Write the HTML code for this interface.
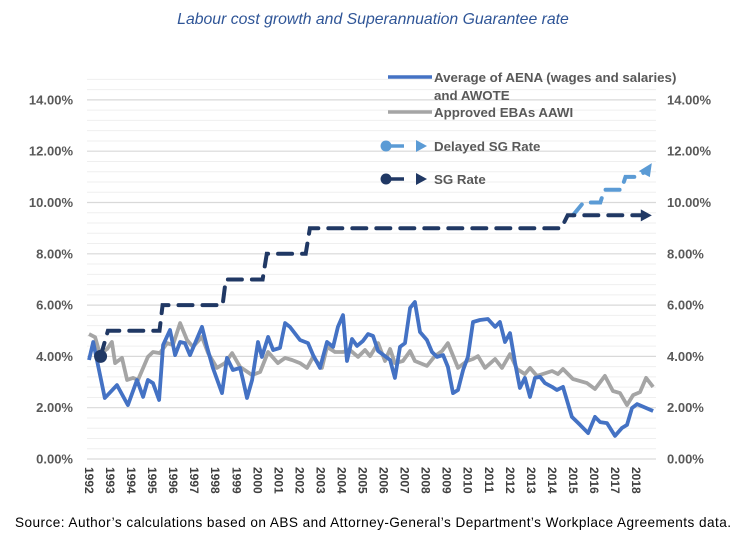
<!DOCTYPE html>
<html><head><meta charset="utf-8"><style>
body{margin:0;background:#fff;width:746px;height:547px;overflow:hidden;font-family:"Liberation Sans",sans-serif}
svg{display:block}
</style></head><body>
<svg id="chart" width="746" height="547" viewBox="0 0 746 547" xmlns="http://www.w3.org/2000/svg">
<text x="373" y="24" text-anchor="middle" font-size="15.8" font-style="italic" fill="#2F5597">Labour cost growth and Superannuation Guarantee rate</text>
<g id="grid"></g>
<g id="yl"></g>
<g id="yr"></g>
<g id="xa"></g>
<g id="series"></g>
<g font-size="13.3" font-weight="bold" fill="#595959">
 <g><line x1="388" y1="77" x2="432" y2="77" stroke="#4472C4" stroke-width="3.5"/><text x="434" y="82">Average of AENA (wages and salaries)</text><text x="434" y="100">and AWOTE</text></g>
 <g><line x1="388" y1="112" x2="432" y2="112" stroke="#A5A5A5" stroke-width="3.5"/><text x="434" y="117">Approved EBAs AAWI</text></g>
 <g><circle cx="386" cy="146" r="5.5" fill="#5B9BD5"/><line x1="386" y1="146" x2="404" y2="146" stroke="#5B9BD5" stroke-width="3.5"/><polygon points="416,140 427,146 416,152" fill="#5B9BD5"/><text x="434" y="151">Delayed SG Rate</text></g>
 <g><circle cx="386" cy="179" r="5.5" fill="#203864"/><line x1="386" y1="179" x2="404" y2="179" stroke="#203864" stroke-width="3.5"/><polygon points="416,173 427,179 416,185" fill="#203864"/><text x="434" y="184">SG Rate</text></g>
</g>
<text x="373" y="527" text-anchor="middle" font-size="13.6" fill="#000" textLength="716">Source: Author’s calculations based on ABS and Attorney-General’s Department’s Workplace Agreements data.</text>
</svg>
<script>
const aenaT=[1992.0,1992.2,1992.75,1993.33,1993.85,1994.28,1994.57,1994.8,1995.04,1995.33,1995.52,1995.85,1996.09,1996.33,1996.56,1996.8,1997.37,1997.61,1997.89,1998.32,1998.56,1998.84,1999.18,1999.32,1999.51,1999.75,2000.03,2000.22,2000.51,2000.75,2001.08,2001.32,2001.55,2002.03,2002.41,2002.65,2002.98,2003.31,2003.6,2003.83,2004.07,2004.26,2004.5,2004.74,2005.02,2005.26,2005.5,2005.74,2006.31,2006.54,2006.78,2007.02,2007.26,2007.49,2007.73,2008.06,2008.3,2008.54,2008.83,2009.06,2009.3,2009.54,2009.78,2010.01,2010.25,2010.58,2010.96,2011.3,2011.53,2011.77,2012.01,2012.25,2012.48,2012.72,2012.96,2013.2,2013.44,2013.67,2014.01,2014.24,2014.53,2014.95,2015.34,2015.72,2016.05,2016.29,2016.62,2017.0,2017.33,2017.57,2017.81,2018.05,2018.81];
const aenaV=[3.86,4.56,2.38,2.88,2.1,3.08,2.42,3.08,2.96,2.3,4.44,5.03,4.05,4.56,4.52,4.05,5.15,4.37,3.55,2.57,3.94,3.47,3.55,3.08,2.38,3.08,4.56,3.98,4.76,4.25,4.33,5.3,5.15,4.64,4.52,4.05,3.55,4.56,4.37,5.15,5.61,3.82,4.68,4.41,4.6,4.87,4.8,4.21,3.86,3.16,4.37,4.52,5.89,6.12,4.95,4.64,4.17,3.98,4.05,3.59,2.57,2.69,3.47,3.98,5.34,5.42,5.46,5.15,5.34,4.56,4.91,3.74,2.77,3.16,2.42,3.16,3.2,2.96,2.81,2.69,2.81,1.64,1.33,1.01,1.64,1.44,1.4,0.9,1.21,1.33,1.99,2.14,1.87];
const ebaT=[1992.0,1992.29,1992.52,1992.86,1993.09,1993.24,1993.57,1993.81,1994.09,1994.33,1994.8,1995.04,1995.37,1995.71,1995.99,1996.33,1996.66,1996.94,1997.37,1997.66,1998.08,1998.46,1998.8,1999.18,1999.75,2000.13,2000.51,2000.98,2001.32,2001.65,2002.03,2002.36,2002.65,2003.07,2003.31,2003.69,2004.07,2004.4,2004.79,2005.12,2005.36,2005.74,2006.07,2006.31,2006.54,2006.92,2007.26,2007.49,2008.06,2008.44,2008.78,2009.06,2009.54,2009.97,2010.25,2010.49,2010.82,2011.3,2011.63,2012.01,2012.34,2012.72,2012.96,2013.29,2014.01,2014.29,2014.53,2015.0,2015.67,2016.05,2016.52,2016.9,2017.24,2017.57,2017.86,2018.19,2018.48,2018.81];
const ebaV=[4.87,4.75,4.09,4.29,4.56,3.74,3.94,3.08,3.16,3.08,3.98,4.17,4.13,4.52,4.44,5.3,4.64,4.37,4.76,4.13,3.55,3.74,4.13,3.59,3.27,3.39,4.17,3.74,3.94,3.86,3.74,3.55,3.98,3.55,4.37,4.17,4.17,4.25,3.98,4.25,4.01,4.52,3.82,4.29,3.74,3.82,4.21,3.82,3.63,4.01,4.21,4.52,3.55,3.82,3.9,4.01,3.55,3.9,3.55,4.09,3.51,3.31,3.55,3.24,3.43,3.31,3.51,3.12,2.96,2.73,3.24,2.65,2.57,2.1,2.49,2.61,3.16,2.81];
const sgT=[1992.55,1992.9,1995.35,1995.5,1998.35,1998.5,2000.25,2000.45,2002.3,2002.5,2014.45,2014.75,2018.75];
const sgV=[4,5,5,6,6,7,7,8,8,9,9,9.5,9.5];
const dsgT=[2015.0,2015.5,2016.3,2016.5,2017.3,2017.5,2018.0,2018.75];
const dsgV=[9.5,10,10,10.5,10.5,11,11,11.3];
const yTicks=[0,2,4,6,8,10,12,14];
const years=[1992,1993,1994,1995,1996,1997,1998,1999,2000,2001,2002,2003,2004,2005,2006,2007,2008,2009,2010,2011,2012,2013,2014,2015,2016,2017,2018];

const NS="http://www.w3.org/2000/svg";
const X0=89,XS=21.04,Y0=459,YS=25.65,L=87,R=656;
function xs(t){return X0+(t-1992)*XS;}
function ys(v){return Y0-v*YS;}
function mk(tag,attrs,parent){const e=document.createElementNS(NS,tag);for(const k in attrs)e.setAttribute(k,attrs[k]);parent.appendChild(e);return e;}
const grid=document.getElementById('grid');
for(let i=0;i<=37;i++){const v=i*0.4;const major=Math.abs(v/2-Math.round(v/2))<1e-6;
 const ln=mk('line',{x1:L,x2:R,y1:ys(v),y2:ys(v),stroke:major?'#d9d9d9':'#efefef','stroke-width':major?1.2:1},grid);
 
 }
const yl=document.getElementById('yl'),yr=document.getElementById('yr');
yTicks.forEach(v=>{
 const a=mk('text',{x:73,y:ys(v)+4.5,'text-anchor':'end','font-size':13,'font-weight':'bold',fill:'#595959'},yl);a.textContent=v.toFixed(2)+'%';
 
 
 const b=mk('text',{x:667,y:ys(v)+4.5,'font-size':13,'font-weight':'bold',fill:'#595959'},yr);b.textContent=v.toFixed(2)+'%';
 
 
});
const xa=document.getElementById('xa');
years.forEach(y=>{const x=xs(y);
 const t=mk('text',{x:0,y:0,transform:`translate(${x-4},467) rotate(90)`,'font-size':12,'font-weight':'bold',fill:'#404040'},xa);t.textContent=y;
 
 });
const S=document.getElementById('series');
function pts(T,V){return T.map((t,i)=>xs(t).toFixed(1)+','+ys(V[i]).toFixed(1)).join(' ');}
const p1=mk('polyline',{points:pts(ebaT,ebaV),fill:'none',stroke:'#A5A5A5','stroke-width':3.8,'stroke-linejoin':'round'},S);


const p2=mk('polyline',{points:pts(aenaT,aenaV),fill:'none',stroke:'#4472C4','stroke-width':3.8,'stroke-linejoin':'round'},S);


const p3=mk('polyline',{points:pts(dsgT.slice(0,-1).concat([dsgT[dsgT.length-1]-0.3]),dsgV.slice(0,-1).concat([dsgV[dsgV.length-1]-0.1])),fill:'none',stroke:'#5B9BD5','stroke-width':4,'stroke-dasharray':'14 10','stroke-linecap':'round'},S);


const n=dsgT.length-1,ax=xs(dsgT[n]),ay=ys(dsgV[n]);
const a3=mk('polygon',{points:`${ax},${ay-6} ${ax-2},${ay+8} ${ax-13},${ay+2}`,fill:'#5B9BD5'},S);


const p4=mk('polyline',{points:pts(sgT.slice(0,-1).concat([sgT[sgT.length-1]-0.35]),sgV),fill:'none',stroke:'#203864','stroke-width':4,'stroke-dasharray':'14 10','stroke-linecap':'round'},S);


const m=sgT.length-1,bx=xs(sgT[m]),by=ys(sgV[m]);
const a4=mk('polygon',{points:`${bx-11},${by-6} ${bx},${by} ${bx-11},${by+6}`,fill:'#203864'},S);


const c=mk('circle',{cx:xs(sgT[0]),cy:ys(sgV[0]),r:6.5,fill:'#203864'},S);


</script>
</body></html>
